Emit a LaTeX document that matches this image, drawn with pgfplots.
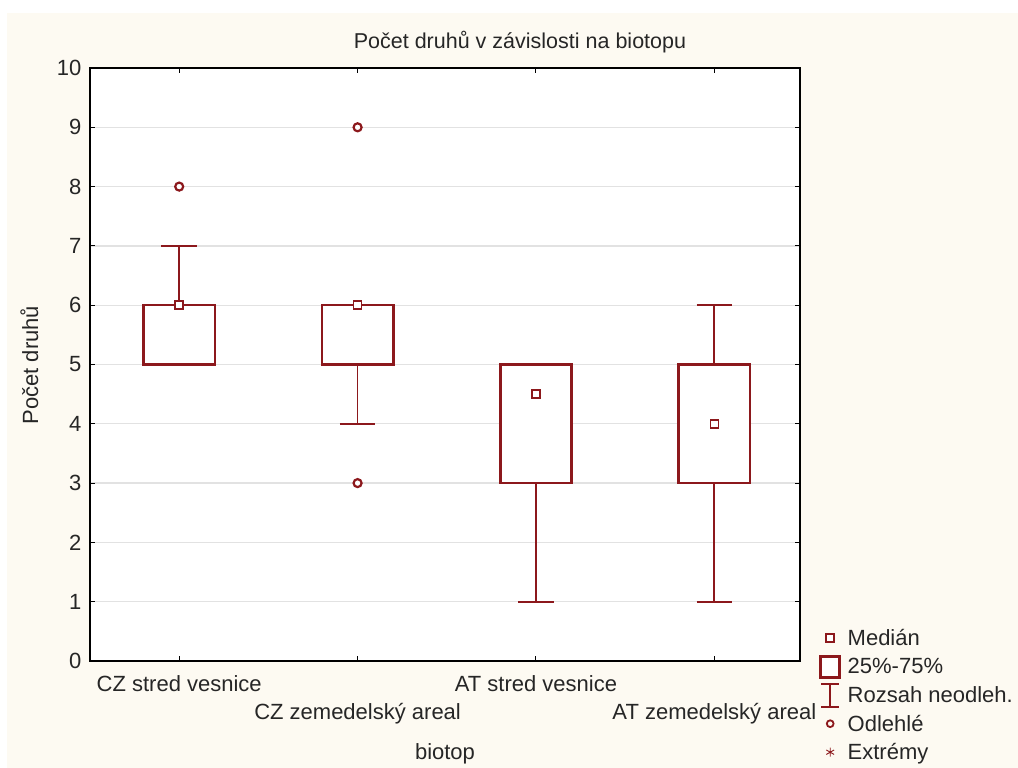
\documentclass[border=0pt]{standalone}
\usepackage{fontspec}
\setmainfont{Liberation Sans}
\usepackage{pgfplots}
\pgfplotsset{compat=1.18}
\usepgfplotslibrary{statistics}

\definecolor{boxred}{RGB}{140,24,28}
\definecolor{panel}{RGB}{253,250,242}
\definecolor{gridgray}{RGB}{226,226,226}

\newcommand{\lfont}{\fontsize{22}{26}\selectfont}

\begin{document}
\begin{tikzpicture}
% page and panel background
\path[use as bounding box, fill=white] (0pt,0pt) rectangle (1018pt,768pt);
\fill[panel] (7pt,0pt) rectangle (1018pt,755pt);
\begin{axis}[
  at={(90pt,107pt)}, anchor=south west,
  scale only axis, width=710pt, height=593pt,
  xmin=0.5, xmax=4.48, ymin=0, ymax=10,
  axis background/.style={fill=white},
  axis line style={black, line width=1.2pt},
  /pgf/number format/assume math mode=true,
  ytick={0,1,...,10},
  xtick={1,3},
  xticklabels={CZ stred vesnice, AT stred vesnice},
  extra x ticks={2,4},
  extra x tick labels={CZ zemedelský areal, AT zemedelský areal},
  extra x tick style={xticklabel style={yshift=-28pt}},
  tick align=inside, tick pos=both,
  major tick length=5pt,
  tick style={black, line width=1pt},
  ymajorgrids,
  grid style={gridgray, line width=1.3pt},
  every tick label/.append style={font=\lfont, text=black!85},
  xticklabel style={anchor=base, yshift=-31pt},
  yticklabel style={anchor=east, xshift=-5pt},
  xlabel={biotop},
  xlabel style={at={(axis description cs:0.5,-0.1653)}, anchor=base, font=\lfont, text=black!85},
  ylabel={Počet druhů},
  ylabel style={at={(axis description cs:-0.0732,0.499)}, anchor=base, rotate=0, font=\lfont, text=black!85},
  title={Počet druhů v závislosti na biotopu},
  every axis title/.style={at={(axis description cs:0.6056,1.0321)}, anchor=base,
    font=\fontsize{21.5}{26}\selectfont, text=black!85},
  boxplot/draw direction=y,
  boxplot/box extend=0.4,
  boxplot/whisker extend=0.2,
  boxplot/every box/.style={line width=2.6pt, fill=white},
  boxplot/every whisker/.style={line width=1.8pt},
  boxplot/every median/.style={draw=none},
  legend style={
    at={(axis description cs:1.02535,0.0628)}, anchor=north west,
    draw=none, fill=none, inner sep=0pt,
    nodes={inner sep=0pt, text=black!85},
    column sep=5.5pt, row sep=0pt,
    font=\lfont,
  },
  legend cell align=left,
]
% legend keys
\addlegendimage{legend image code/.code={
  \path[draw=none, fill=none] (0pt,-14.25pt) rectangle (24pt,14.25pt);
  \draw[boxred, line width=1.6pt, fill=white] (8pt,-4pt) rectangle (16pt,4pt);}}
\addlegendentry{Medián}
\addlegendimage{legend image code/.code={
  \path[draw=none, fill=none] (0pt,-14.25pt) rectangle (24pt,14.25pt);
  \draw[boxred, line width=2.6pt, fill=white] (2.5pt,-10.5pt) rectangle (21.5pt,10.5pt);}}
\addlegendentry{25\%-75\%}
\addlegendimage{legend image code/.code={
  \path[draw=none, fill=none] (0pt,-14.25pt) rectangle (24pt,14.25pt);
  \draw[boxred, line width=1.7pt] (12pt,-11.5pt) -- (12pt,11.5pt)
     (3pt,11.5pt) -- (21pt,11.5pt) (3pt,-11.5pt) -- (21pt,-11.5pt);}}
\addlegendentry{Rozsah neodleh.}
\addlegendimage{legend image code/.code={
  \path[draw=none, fill=none] (0pt,-14.25pt) rectangle (24pt,14.25pt);
  \draw[boxred, line width=1.8pt] (12pt,0pt) circle (3.4pt);}}
\addlegendentry{Odlehlé}
\addlegendimage{legend image code/.code={
  \path[draw=none, fill=none] (0pt,-14.25pt) rectangle (24pt,14.25pt);
  \draw[boxred, line width=0.9pt] (12pt,0pt) ++(90:4.5pt) -- ++(270:9pt)
     (12pt,0pt) ++(30:4.5pt) -- ++(210:9pt)
     (12pt,0pt) ++(150:4.5pt) -- ++(330:9pt);}}
\addlegendentry{Extrémy}

% boxes: quartiles and non-outlier range
\addplot[boxred, forget plot, boxplot prepared={draw position=1,
  median=6, lower quartile=5, upper quartile=6,
  lower whisker=5, upper whisker=7}] coordinates {};
\addplot[boxred, forget plot, boxplot prepared={draw position=2,
  median=6, lower quartile=5, upper quartile=6,
  lower whisker=4, upper whisker=6}] coordinates {};
\addplot[boxred, forget plot, boxplot prepared={draw position=3,
  median=4.5, lower quartile=3, upper quartile=5,
  lower whisker=1, upper whisker=5}] coordinates {};
\addplot[boxred, forget plot, boxplot prepared={draw position=4,
  median=4, lower quartile=3, upper quartile=5,
  lower whisker=1, upper whisker=6}] coordinates {};

% medians
\addplot[forget plot, only marks, mark=square*, mark size=4pt,
  mark options={draw=boxred, fill=white, line width=1.7pt}]
  coordinates {(1,6) (2,6) (3,4.5) (4,4)};

% outliers
\addplot[forget plot, only marks, mark=*, mark size=4pt,
  mark options={draw=boxred, fill=white, line width=2.2pt}]
  coordinates {(1,8) (2,9) (2,3)};
\end{axis}
\end{tikzpicture}
\end{document}
